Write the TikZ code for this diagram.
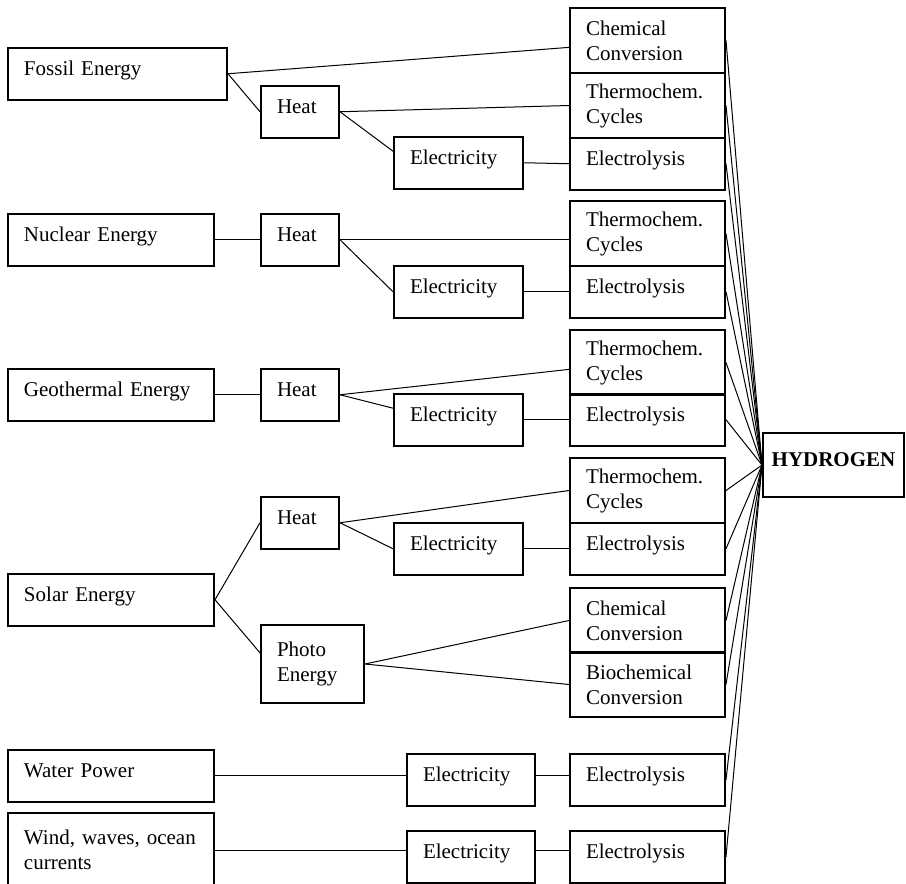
\documentclass[tikz,border=0pt]{standalone}
\usepackage{fontspec}
\setmainfont{Liberation Serif}
\tikzset{
  caja/.style={draw, line width=1pt, anchor=north west, align=left,
    inner xsep=8pt, inner ysep=0pt, font=\fontsize{10.5pt}{12.5pt}\selectfont},
  una/.style={minimum height=25.75pt, text height=7.5pt, text depth=5.7pt},
  dos/.style={minimum height=32.5pt},
  fuente/.style={caja, minimum width=103pt, text width=87pt},
  calor/.style={caja, minimum width=39pt, text width=23pt},
  elec/.style={caja, minimum width=64.5pt, text width=48.5pt},
  proc/.style={caja, minimum width=77.5pt, text width=61.5pt},
  enlace/.style={line width=0.5pt}
}
\begin{document}
\begin{tikzpicture}[x=0.5pt, y=-0.5pt]
  \useasboundingbox (0,0) rectangle (906,884);

  % Energia fosil
  \node[fuente, una, minimum width=109.5pt, text width=93.5pt] (fosil) at (7,47) {Fossil Energy};
  \node[calor, una] (fcalor) at (260,85) {Heat};
  \node[elec, una] (felec) at (393,136) {Electricity};
  \node[proc, dos] (fquim) at (569,7) {Chemical\\Conversion};
  \node[proc, dos] (ftermo) at (569,72) {Thermochem.\\Cycles};
  \node[proc, una] (felis) at (569,137) {Electrolysis};

  % Energia nuclear
  \node[fuente, una] (nuclear) at (7,213) {Nuclear Energy};
  \node[calor, una] (ncalor) at (260,213) {Heat};
  \node[elec, una] (nelec) at (393,265) {Electricity};
  \node[proc, dos] (ntermo) at (569,200) {Thermochem.\\Cycles};
  \node[proc, una] (nelis) at (569,265) {Electrolysis};

  % Energia geotermica
  \node[fuente, una] (geo) at (7,368) {Geothermal Energy};
  \node[calor, una] (gcalor) at (260,368) {Heat};
  \node[elec, una] (gelec) at (393,393) {Electricity};
  \node[proc, dos] (gtermo) at (569,329) {Thermochem.\\Cycles};
  \node[proc, una] (gelis) at (569,393) {Electrolysis};

  % Energia solar
  \node[fuente, una] (solar) at (7,573) {Solar Energy};
  \node[calor, una] (scalor) at (260,496) {Heat};
  \node[elec, una] (selec) at (393,522) {Electricity};
  \node[proc, dos] (stermo) at (569,457) {Thermochem.\\Cycles};
  \node[proc, una] (selis) at (569,522) {Electrolysis};
  \node[calor, minimum width=51.5pt, text width=35.5pt, minimum height=39pt] (foto) at (260,624) {Photo\\Energy};
  \node[proc, dos] (squim) at (569,587) {Chemical\\Conversion};
  \node[proc, dos] (sbio) at (569,651) {Biochemical\\Conversion};

  % Agua y viento
  \node[fuente, una] (agua) at (7,749) {Water Power};
  \node[elec, una, minimum width=64pt, text width=48pt] (aelec) at (406,753) {Electricity};
  \node[proc, una] (aelis) at (569,753) {Electrolysis};
  \node[fuente, minimum height=37pt] (viento) at (7,812) {Wind, waves, ocean\\currents};
  \node[elec, una, minimum width=64pt, text width=48pt] (velec) at (406,830) {Electricity};
  \node[proc, una] (velis) at (569,830) {Electrolysis};

  % Hidrogeno
  \node[caja, una, minimum width=70.5pt, minimum height=32pt, inner xsep=2pt, align=center,
    font=\fontsize{10.5pt}{12.5pt}\selectfont\bfseries] (h2) at (762,432) {HYDROGEN};

  % Lineas de cada fuente
  \draw[enlace] (fosil.east) -- (fquim.185);
  \draw[enlace] (fosil.east) -- (fcalor.west);
  \draw[enlace] (fcalor.east) -- (ftermo.west);
  \draw[enlace] (fcalor.east) -- (felec.170);
  \draw[enlace] (felec.east) -- (felis.west);

  \draw[enlace] (nuclear.east) -- (ncalor.west);
  \draw[enlace] (ncalor.east) -- (ncalor.east -| ntermo.west);
  \draw[enlace] (ncalor.east) -- (nelec.west);
  \draw[enlace] (nelec.east) -- (nelis.west);

  \draw[enlace] (geo.east) -- (gcalor.west);
  \draw[enlace] (gcalor.east) -- (gtermo.185);
  \draw[enlace] (gcalor.east) -- (gelec.170);
  \draw[enlace] (gelec.east) -- (gelis.west);

  \draw[enlace] (solar.east) -- (scalor.west);
  \draw[enlace] (solar.east) -- (foto.168);
  \draw[enlace] (scalor.east) -- (stermo.west);
  \draw[enlace] (scalor.east) -- (selec.west);
  \draw[enlace] (selec.east) -- (selis.west);
  \draw[enlace] (foto.east) -- (squim.west);
  \draw[enlace] (foto.east) -- (sbio.west);

  \draw[enlace] (agua.east) -- (agua.east -| aelec.west);
  \draw[enlace] (aelec.east |- agua.east) -- (agua.east -| aelis.west);
  \draw[enlace] (viento.east) -- (viento.east -| velec.west);
  \draw[enlace] (velec.east |- viento.east) -- (viento.east -| velis.west);

  % Todo converge al hidrogeno
  \draw[enlace] (fquim.east) -- (h2.west);
  \draw[enlace] (ftermo.east) -- (h2.west);
  \draw[enlace] (felis.east) -- (h2.west);
  \draw[enlace] (ntermo.east) -- (h2.west);
  \draw[enlace] (nelis.east) -- (h2.west);
  \draw[enlace] (gtermo.east) -- (h2.west);
  \draw[enlace] (gelis.east) -- (h2.west);
  \draw[enlace] (stermo.east) -- (h2.west);
  \draw[enlace] (selis.east) -- (h2.west);
  \draw[enlace] (squim.east) -- (h2.west);
  \draw[enlace] (sbio.east) -- (h2.west);
  \draw[enlace] (aelis.east) -- (h2.west);
  \draw[enlace] (velis.east) -- (h2.west);
\end{tikzpicture}
\end{document}
